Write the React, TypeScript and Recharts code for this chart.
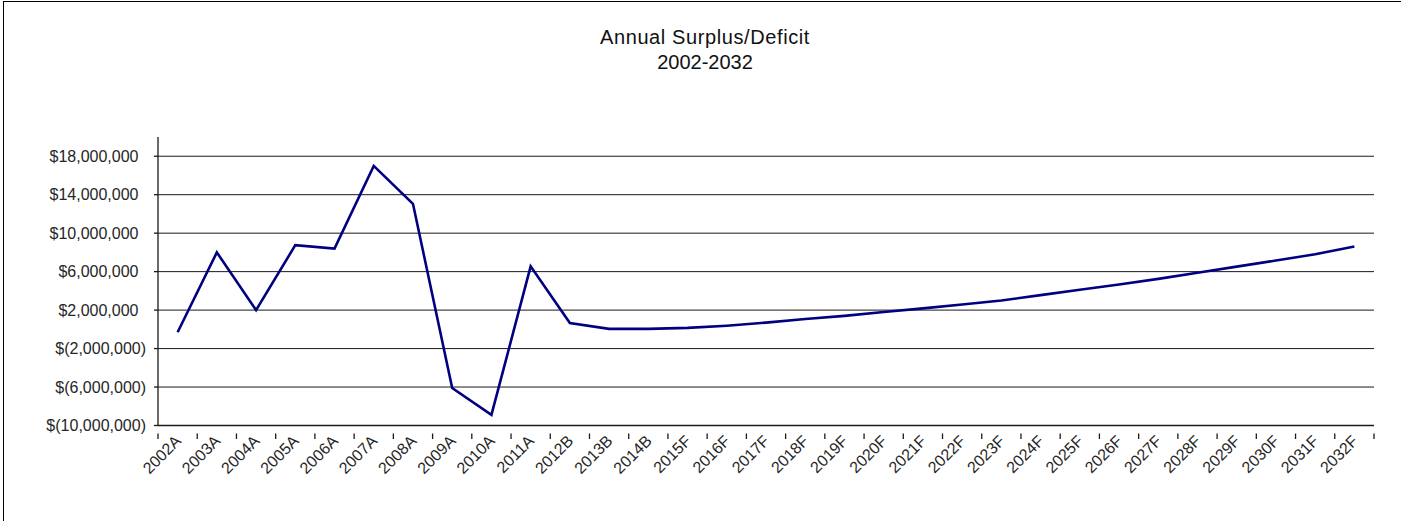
import { LineChart, Line, XAxis, YAxis, ReferenceLine } from 'recharts';

const years = [
  '2002A', '2003A', '2004A', '2005A', '2006A', '2007A', '2008A', '2009A', '2010A', '2011A',
  '2012B', '2013B', '2014B',
  '2015F', '2016F', '2017F', '2018F', '2019F', '2020F', '2021F', '2022F', '2023F', '2024F',
  '2025F', '2026F', '2027F', '2028F', '2029F', '2030F', '2031F', '2032F',
];

const surplus = [
  -300000, 8000000, 2000000, 8750000, 8400000, 17000000, 13050000, -6100000, -8900000, 6550000,
  650000, 50000, 50000,
  150000, 380000, 700000, 1080000, 1400000, 1800000, 2180000, 2580000, 3000000, 3560000,
  4120000, 4670000, 5250000, 5880000, 6520000, 7150000, 7800000, 8620000,
];

const yTicks = [-10000000, -6000000, -2000000, 2000000, 6000000, 10000000, 14000000, 18000000];
const yDomain = [-10000000, 20000000];

const W = 1401;
const H = 521;
const M = { top: 137, right: 27, bottom: 0, left: 0 };
const Y_AXIS_W = 158;
const X_AXIS_H = 95.5;
const FONT = '"Liberation Sans", Arial, sans-serif';
const INK = '#1a1a1a';

const plotW = W - M.left - M.right - Y_AXIS_W;
const band = plotW / years.length;

const data = years.map((year, i) => ({ year, surplus: surplus[i] }));

function money(v: number) {
  const s = Math.abs(v).toLocaleString('en-US');
  return v < 0 ? `$(${s})` : `$${s}`;
}

function MoneyTick(props: any) {
  const { x, y, payload } = props;
  const v = payload.value as number;
  // positive values leave room for the closing paren, accounting style
  const dx = v < 0 ? 0 : -7.5;
  return (
    <text x={x + dx} y={y} dy="0.35em" textAnchor="end" fontSize={16} fontFamily={FONT} fill="#262626">
      {money(v)}
    </text>
  );
}

// category labels sit at band centres, tick marks on the band edges
function YearTick(props: any) {
  const { x, y, index } = props;
  const left = x - band / 2;
  const tx = x + 4.5;
  const ty = y + 8.5;
  return (
    <g>
      <line x1={left} y1={y} x2={left} y2={y + 5.5} stroke={INK} strokeWidth={1.3} />
      {index === years.length - 1 && (
        <line x1={x + band / 2} y1={y} x2={x + band / 2} y2={y + 5.5} stroke={INK} strokeWidth={1.3} />
      )}
      <text
        x={tx}
        y={ty}
        transform={`rotate(-45, ${tx}, ${ty})`}
        textAnchor="end"
        fontSize={16}
        fontFamily={FONT}
        fill="#262626"
      >
        {props.payload.value}
      </text>
    </g>
  );
}

export default function App() {
  return (
    <div style={{ position: 'absolute', left: 0, top: 0, width: W, height: H, overflow: 'hidden', background: '#fff' }}>
      <div
        style={{
          position: 'absolute',
          left: 3,
          top: 1,
          width: W + 20,
          height: H + 20,
          borderLeft: '1px solid #000',
          borderTop: '1px solid #000',
        }}
      />
      <svg width={W} height={120} style={{ position: 'absolute', left: 0, top: 0 }}>
        <text x={705} y={44} textAnchor="middle" fontSize={20} letterSpacing={0.6} fontFamily={FONT} fill="#111">
          Annual Surplus/Deficit
        </text>
        <text x={705} y={69} textAnchor="middle" fontSize={20} fontFamily={FONT} fill="#111">
          2002-2032
        </text>
      </svg>
      <div style={{ position: 'absolute', left: 0, top: 0 }}>
        <LineChart width={W} height={H} data={data} margin={M}>
          {yTicks.map((t) => (
            <ReferenceLine key={t} y={t} stroke={INK} strokeWidth={1} />
          ))}
          <XAxis
            dataKey="year"
            scale="band"
            interval={0}
            height={X_AXIS_H}
            axisLine={{ stroke: INK, strokeWidth: 1.3 }}
            tickLine={false}
            tick={(p: any) => <YearTick {...p} />}
          />
          <YAxis
            width={Y_AXIS_W}
            domain={yDomain}
            ticks={yTicks}
            allowDataOverflow
            tickSize={4}
            tickMargin={8}
            axisLine={{ stroke: INK, strokeWidth: 1.3 }}
            tickLine={{ stroke: INK, strokeWidth: 1.3 }}
            tick={(p: any) => <MoneyTick {...p} />}
          />
          <Line
            type="linear"
            dataKey="surplus"
            stroke="#000080"
            strokeWidth={2.6}
            dot={false}
            isAnimationActive={false}
          />
        </LineChart>
      </div>
    </div>
  );
}
